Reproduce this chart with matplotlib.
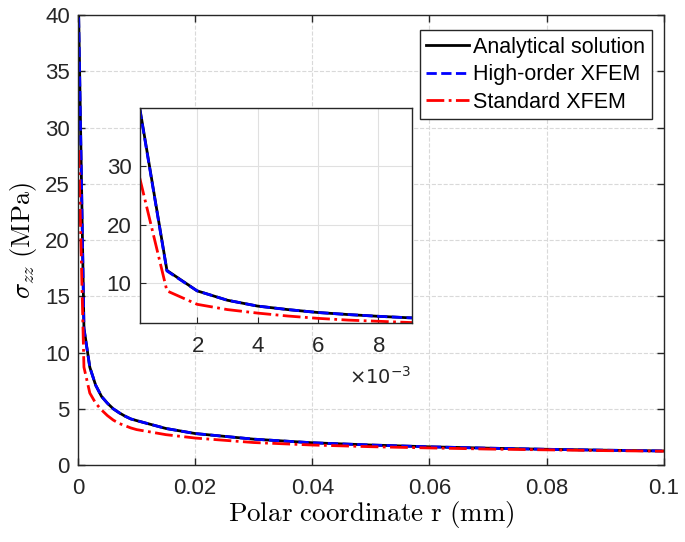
import matplotlib
matplotlib.use("Agg")
import matplotlib.pyplot as plt
from matplotlib.ticker import ScalarFormatter

# Polar coordinate r (mm) and stress sigma_zz (MPa)
r = [0.0001, 0.001, 0.002, 0.003, 0.004, 0.005, 0.006, 0.007, 0.008, 0.009,
     0.010, 0.015, 0.020, 0.030, 0.040, 0.050, 0.060, 0.070, 0.080, 0.090, 0.100]
analytical = [40.0, 12.2, 8.7, 7.1, 6.1, 5.5, 5.0, 4.65, 4.35, 4.1,
              3.95, 3.25, 2.8, 2.3, 1.98, 1.78, 1.62, 1.5, 1.4, 1.32, 1.25]
high_order = [39.8, 12.1, 8.7, 7.1, 6.1, 5.5, 5.0, 4.65, 4.35, 4.1,
              3.95, 3.25, 2.8, 2.3, 1.98, 1.78, 1.62, 1.5, 1.4, 1.32, 1.25]
standard = [28.0, 8.7, 6.4, 5.5, 4.9, 4.4, 4.0, 3.7, 3.5, 3.3,
            3.15, 2.7, 2.4, 2.0, 1.78, 1.63, 1.52, 1.42, 1.35, 1.28, 1.23]

series = [
    ("Analytical solution", analytical, "k", "-"),
    ("High-order XFEM", high_order, "b", "--"),
    ("Standard XFEM", standard, "r", "-."),
]

x_ticks = [0, 0.02, 0.04, 0.06, 0.08, 0.1]
x_tick_labels = ["0", "0.02", "0.04", "0.06", "0.08", "0.1"]
y_ticks = [0, 5, 10, 15, 20, 25, 30, 35, 40]
inset_x_ticks = [0.002, 0.004, 0.006, 0.008]
inset_y_ticks = [10, 20, 30]

plt.rcParams["font.family"] = ["Liberation Sans", "DejaVu Sans"]
plt.rcParams["mathtext.fontset"] = "cm"
INK = "#262626"

fig = plt.figure(figsize=(6.85, 5.42), dpi=100)
ax = fig.add_axes([0.114, 0.142, 0.855, 0.830])

for label, ys, color, ls in series:
    ax.plot(r, ys, color=color, linestyle=ls, linewidth=2, label=label)

ax.set_xlim(0, 0.1)
ax.set_ylim(0, 40)
ax.set_xticks(x_ticks)
ax.set_xticklabels(x_tick_labels)
ax.set_yticks(y_ticks)
ax.tick_params(direction="in", top=True, right=True, labelsize=16,
               colors=INK, width=1, length=5)
ax.tick_params(axis="x", pad=9)
ax.tick_params(axis="y", pad=6)
for sp in ax.spines.values():
    sp.set_color(INK)
    sp.set_linewidth(1)
ax.grid(True, linestyle="--", color="#d9d9d9", linewidth=0.8)
ax.set_xlabel(r"$\mathrm{Polar\ coordinate\ r\ (mm)}$", fontsize=19.5, labelpad=0)
ax.set_ylabel(r"$\sigma_{zz}\ \mathrm{(MPa)}$", fontsize=19, labelpad=4)

leg = ax.legend(loc="upper right", fontsize=15.5, handlelength=2.0,
                handletextpad=0.2, borderpad=0.3, labelspacing=0.3,
                fancybox=False, framealpha=1, bbox_to_anchor=(0.998, 0.99))
leg.get_frame().set_edgecolor(INK)
leg.get_frame().set_linewidth(1)

# inset zoom near the crack tip
ins = fig.add_axes([0.204, 0.404, 0.397, 0.397])
for label, ys, color, ls in series:
    ins.plot(r, ys, color=color, linestyle=ls, linewidth=2)
ins.set_xlim(0.0001, 0.0091)
ins.set_ylim(3.2, 40)
ins.set_xticks(inset_x_ticks)
ins.set_yticks(inset_y_ticks)
fmt = ScalarFormatter(useMathText=True)
fmt.set_powerlimits((-2, 2))
ins.xaxis.set_major_formatter(fmt)
ins.xaxis.get_offset_text().set_visible(False)
ins.text(1.0, -0.25, r"$\times10^{-3}$", transform=ins.transAxes, ha="right",
         va="center", fontsize=14, color=INK, math_fontfamily="dejavusans")
ins.tick_params(direction="in", labelsize=16, colors=INK, length=4)
ins.tick_params(axis="x", pad=9)
ins.tick_params(axis="y", pad=6)
ins.grid(True, linestyle="-", color="#e0e0e0", linewidth=0.8)
for sp in ins.spines.values():
    sp.set_color(INK)
    sp.set_linewidth(1)

fig.savefig("out.png", dpi=100)
